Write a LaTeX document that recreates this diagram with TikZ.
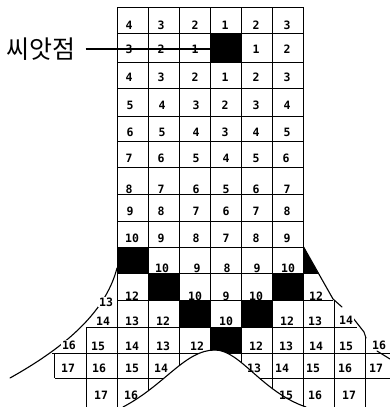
\documentclass[tikz,border=0pt]{standalone}
\usepackage{fontspec}
\newfontfamily\korfont{Noto Sans CJK KR}
\newfontfamily\numfont{DejaVu Sans Mono}
\begin{document}
\begin{tikzpicture}[x=1pt,y=-1pt,
  gridline/.style={line width=0.8pt, black},
  curve/.style={line width=1.1pt, black, line join=round, line cap=round},
  leader/.style={line width=1.3pt, black},
  num/.style={font=\numfont\bfseries\fontsize{11.5}{11.5}\selectfont, inner sep=0.6pt},
  masknum/.style={num, fill=white},
  blk/.style={fill=black, draw=none, minimum width=31.1pt, inner sep=0pt, anchor=north west}]
\useasboundingbox (0,0) rectangle (390,407);

\begin{scope}
\clip (0,0) -- (390,0) -- (390,407) -- (306,407) .. controls (262,392) and (240,350) .. (215,350)
      .. controls (185,350) and (165,385) .. (123,407) -- (0,407) -- cycle;
% black cells
\node[blk, minimum height=29pt] (seed) at (210.3,33) {};
\node[blk, minimum height=26pt] (b9a) at (117,247) {};
\node[blk, minimum height=27pt] (b10a) at (148.1,273) {};
\node[blk, minimum height=27pt] (b10b) at (272.5,273) {};
\node[blk, minimum height=27pt] (b11a) at (179.2,300) {};
\node[blk, minimum height=27pt] (b11b) at (241.4,300) {};
\node[blk, minimum height=26pt] (b12a) at (210.3,327) {};
\fill (303.6,247) -- (318,273) -- (303.6,273) -- cycle;
% grid lines
\foreach \x/\a/\b in {54.8/353/378, 85.9/327/407, 117/7/407, 148.1/7/407, 179.2/7/407,
    210.3/7/407, 241.4/7/407, 272.5/7/407, 303.6/7/407, 334.7/300/407, 365.8/337/407}
  \draw[gridline] (\x,\a) -- (\x,\b);
\foreach \y in {7,33,62,88,116,141,167,194,221,247}
  \draw[gridline] (117,\y) -- (303.6,\y);
\draw[gridline] (117,273) -- (318,273);
\draw[gridline] (117,300) -- (333,300);
\draw[gridline] (85.9,327) -- (357,327);
\draw[gridline] (52,353) -- (390,353);
\draw[gridline] (54.8,378) -- (390,378);
\end{scope}

% boundary curves
\draw[curve] (10,378) .. controls (60,350) and (105,315) .. (117,268);
\draw[curve] (123,407) .. controls (165,385) and (185,350) .. (215,350)
      .. controls (240,350) and (262,392) .. (306,407);
\draw[curve] (303.6,247) -- (333,299) -- (342,307);
\draw[curve] (353,318) -- (364,332) -- (366,338);
\draw[curve] (377,351) -- (390,359);

% numbers
\foreach \y/\r/\lst in {
  25/0/{129/4,161/3,195/2,225/1,256/2,287/3},
  49/1/{129/3,161/2,195/1,256/1,287/2},
  77/2/{129/4,161/3,195/2,225/1,256/2,287/3},
  105/3/{130/5,162/4,196/3,225/2,256/3,287/4},
  132/4/{130/6,162/5,196/4,225/3,256/4,287/5},
  158/5/{129/7,161/6,196/5,226/4,256/5,286/6},
  189/6/{129/8,161/7,196/6,226/5,256/6,287/7},
  211/7/{130/9,161/8,196/7,226/6,256/7,287/8},
  238/8/{132/10,161/9,196/8,226/7,256/8,287/9},
  268/9/{162/10,197/9,227/8,257/9,288/10},
  296/10/{132/12,195/10,226/9,256/10,316/12},
  321/11/{132/13,163/12,226/10,287/12,315/13},
  346/12/{98/15,132/14,163/13,197/12,256/12,286/13,316/14,346/15},
  368/13/{68/17,99/16,132/15,161/14,254/13,282/14,313/15,345/16,376/17},
  395/14/{101/17,131/16,286/15,315/16,349/17}}
{
  \foreach \x/\t [count=\i] in \lst
    \node[num] (n\r-\i) at (\x,\y) {\t};
}
\node[masknum] (m10) at (106,302) {13};
\node[masknum] (m11a) at (103,321) {14};
\node[masknum] (m11b) at (346,320) {14};
\node[masknum] (m12a) at (69,345) {16};
\node[masknum] (m12b) at (379,345) {16};

% seed label and leader
\node[font=\korfont\fontsize{25}{25}\selectfont, inner sep=0pt] (label) at (41,49) {씨앗점};
\draw[leader] ([xshift=10pt]label.east) -- (label.east -| seed.west);
\end{tikzpicture}
\end{document}
